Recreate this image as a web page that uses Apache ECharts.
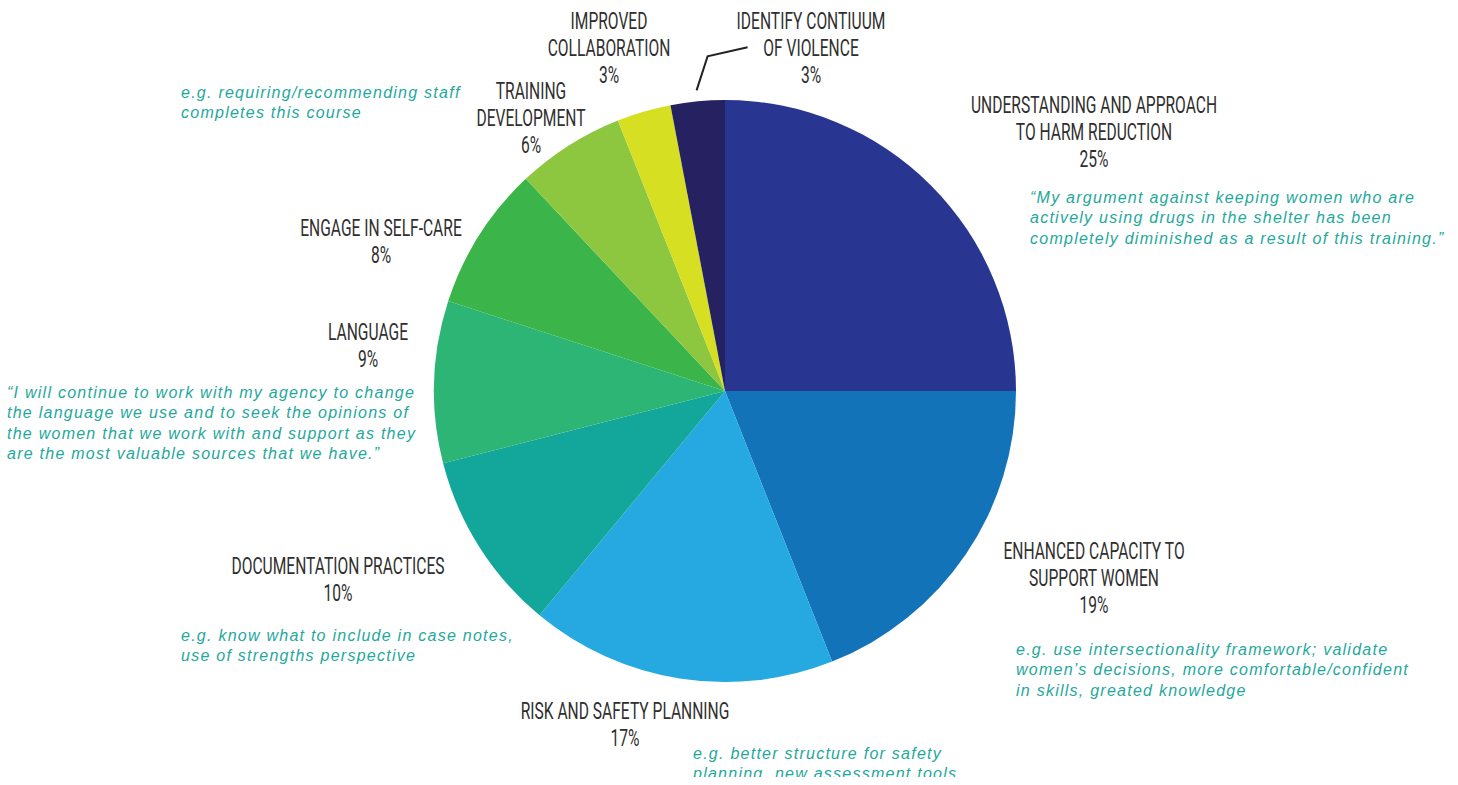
<!DOCTYPE html>
<html>
<head>
<meta charset="utf-8">
<script src="https://cdn.jsdelivr.net/npm/echarts@6/dist/echarts.min.js"></script>
<style>
html,body{margin:0;padding:0;background:#fff;}
#chart{width:1458px;height:777px;overflow:hidden;}
svg text[fill="#1fa89c"]{letter-spacing:1.25px;}
</style>
</head>
<body>
<div id="chart"></div>
<script>
const categories = [
  'UNDERSTANDING AND APPROACH\nTO HARM REDUCTION',
  'ENHANCED CAPACITY TO\nSUPPORT WOMEN',
  'RISK AND SAFETY PLANNING',
  'DOCUMENTATION PRACTICES',
  'LANGUAGE',
  'ENGAGE IN SELF-CARE',
  'TRAINING\nDEVELOPMENT',
  'IMPROVED\nCOLLABORATION',
  'IDENTIFY CONTIUUM\nOF VIOLENCE'
];
const values = [25, 19, 17, 10, 9, 8, 6, 3, 3];
const colors = ['#283691', '#1273b9', '#25a9e0', '#13a69a', '#2cb574', '#3bb54a', '#8dc63f', '#d7df23', '#262261'];
const quotes = [
  '“My argument against keeping women who are\nactively using drugs in the shelter has been\ncompletely diminished as a result of this training.”',
  'e.g. use intersectionality framework; validate\nwomen’s decisions, more comfortable/confident\nin skills, greated knowledge',
  'e.g. better structure for safety\nplanning, new assessment tools',
  'e.g. know what to include in case notes,\nuse of strengths perspective',
  '“I will continue to work with my agency to change\nthe language we use and to seek the opinions of\nthe women that we work with and support as they\nare the most valuable sources that we have.”',
  '',
  'e.g. requiring/recommending staff\ncompletes this course',
  '',
  ''
];

// layout (positions only)
const CX = 725, CY = 391, R = 291;
const labelPos = [[1094, 91], [1094, 537], [625, 697], [338, 552], [368, 318], [381, 214], [531, 77], [609, 7], [811, 7]];
const quotePos = [[1030, 187], [1016, 639], [693, 743], [181, 625], [7, 382], null, [181, 82], null, null];

const chart = echarts.init(document.getElementById('chart'), null, {renderer: 'svg'});

const graphics = [];
categories.forEach((c, i) => {
  graphics.push({
    type: 'text', x: labelPos[i][0], y: labelPos[i][1], scaleX: 0.65, silent: true,
    style: {
      text: c + '\n' + values[i] + '%',
      fontFamily: 'Roboto', fontSize: 24, lineHeight: 27,
      fill: '#2f2f2f', align: 'center', verticalAlign: 'top'
    }
  });
  if (quotes[i] && quotePos[i]) {
    graphics.push({
      type: 'text', x: quotePos[i][0], y: quotePos[i][1], silent: true,
      style: {
        text: quotes[i],
        fontFamily: 'Liberation Sans', fontStyle: 'italic', fontSize: 16, lineHeight: 20.5,
        fill: '#1fa89c', align: 'left', verticalAlign: 'top'
      }
    });
  }
});

// connector for the last (small) slice, computed from the data
const total = values.reduce((a, b) => a + b, 0);
const before = values.slice(0, 8).reduce((a, b) => a + b, 0);
const midFrac = (before + values[8] / 2) / total;
const ang = midFrac * 2 * Math.PI;
const sx = CX + (R + 11) * Math.sin(ang), sy = CY - (R + 11) * Math.cos(ang);
graphics.push({
  type: 'polyline', silent: true,
  shape: {points: [[sx, sy], [sx + 11, sy - 34], [sx + 51, sy - 43]]},
  style: {stroke: '#222', lineWidth: 2, fill: null}
});

chart.setOption({
  backgroundColor: '#fff',
  animation: false,
  series: [{
    type: 'pie',
    center: [CX, CY],
    radius: R,
    startAngle: 90,
    clockwise: true,
    silent: true,
    label: {show: false},
    labelLine: {show: false},
    itemStyle: {borderWidth: 0},
    data: categories.map((c, i) => ({name: c, value: values[i], itemStyle: {color: colors[i]}}))
  }],
  graphic: graphics
});
</script>
</body>
</html>
